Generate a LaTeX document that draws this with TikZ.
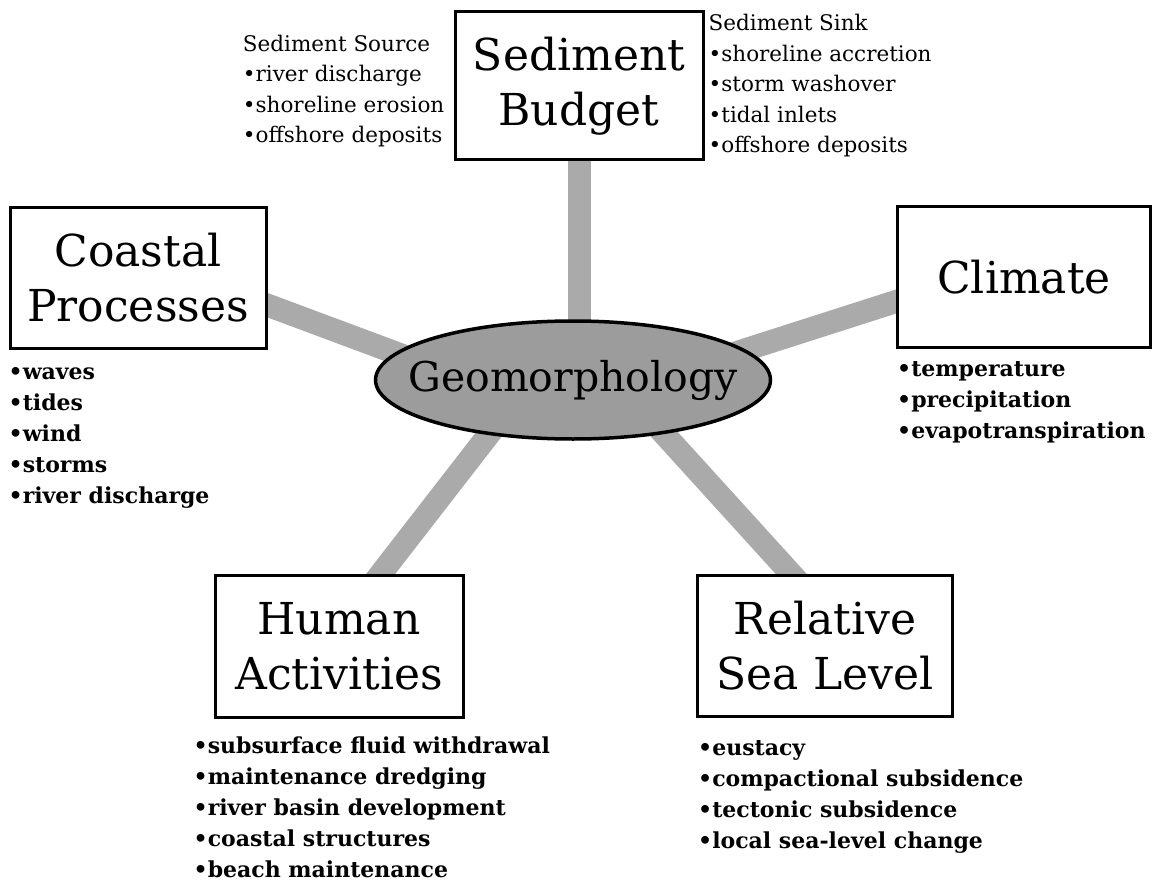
\documentclass[tikz,border=0pt]{standalone}
\usepackage{fontspec}
\setmainfont{DejaVu Serif}
\usepackage{xcolor}
\definecolor{hubgray}{HTML}{9C9C9C}
\definecolor{spokegray}{HTML}{AAAAAA}
\usetikzlibrary{positioning,shapes.geometric,backgrounds,calc}
\tikzset{
    topic/.style={
        rectangle,
        draw=black,
        fill=white,
        line width=3pt,
        minimum width=248pt,
        minimum height=142pt,
        align=center,
        inner sep=0pt,
        font=\fontsize{44}{55}\selectfont,
    },
    hub/.style={
        ellipse,
        draw=black,
        fill=hubgray,
        line width=3.5pt,
        minimum width=395pt,
        minimum height=118pt,
        inner sep=0pt,
    },
    hubtext/.style={
        inner sep=0pt,
        font=\fontsize{41}{48}\selectfont,
    },
    spoke/.style={
        line width=23pt,
        spokegray,
    },
    factors/.style={
        align=left,
        inner sep=0pt,
        font=\bfseries\fontsize{22}{31}\selectfont,
    },
    sources/.style={
        align=left,
        inner sep=0pt,
        font=\fontsize{21.5}{30.5}\selectfont,
    },
}

\begin{document}
\begin{tikzpicture}[x=1pt,y=1pt]
    \useasboundingbox (0,0) rectangle (1155,-885);

    \node[hub] (geo) at (573,-380) {};
    \node[hubtext] (geotext) at (geo.center) {Geomorphology};

    \node[topic, minimum height=148pt] (budget) at (579,-86) {Sediment\\Budget};
    \node[topic, minimum width=256pt, minimum height=140pt] (coastal) at (138,-278) {Coastal\\Processes};
    \node[topic, minimum width=253pt, minimum height=141pt] (climate) at (1024,-277) {Climate};
    \node[topic, minimum height=142pt] (human) at (339,-646) {Human\\Activities};
    \node[topic, minimum width=255pt, minimum height=141pt] (sealevel) at (825,-646) {Relative\\Sea Level};

    % sources and sinks beside the budget box
    \node[sources, left=9pt of budget, yshift=-5pt] (source) {Sediment Source\\•river discharge\\•shoreline erosion\\•offshore deposits};
    \node[sources, right=4pt of budget] (sink) {Sediment Sink\\•shoreline accretion\\•storm washover\\•tidal inlets\\•offshore deposits};

    % factors under each box
    \node[factors, below right=18pt and 0pt of coastal.south west] (coastlist) {•waves\\•tides\\•wind\\•storms\\•river discharge};
    \node[factors, below right=12pt and 1pt of climate.south west] (climlist) {•temperature\\•precipitation\\•evapotranspiration};
    \node[factors, below right=18pt and -20pt of human.south west] (humlist) {•subsurface fluid withdrawal\\•maintenance dredging\\•river basin development\\•coastal structures\\•beach maintenance};
    \node[factors, below right=22pt and 2pt of sealevel.south west] (sealist) {•eustacy\\•compactional subsidence\\•tectonic subsidence\\•local sea-level change};

    % spokes behind the boxes
    \coordinate (hubL) at ($(geo.center)+(0,-39)$);
    \coordinate (hubR) at ($(geo.center)+(0,-25)$);
    \coordinate (hubBL) at ($(geo.center)+(-42,0)$);
    \coordinate (hubBR) at ($(geo.center)+(42,0)$);
    \coordinate (endL) at ($(coastal.center)+(62,-2)$);
    \coordinate (endR) at ($(climate.center)+(-64,-4)$);
    \coordinate (endBL) at ($(human.center)+(6,26)$);
    \coordinate (endBR) at ($(sealevel.center)+(8,26)$);
    \begin{scope}[on background layer]
        \draw[spoke] (budget.center) -- (budget.center |- geo.center);
        \draw[spoke] (hubL) -- (endL);
        \draw[spoke] (hubR) -- (endR);
        \draw[spoke] (hubBL) -- (endBL);
        \draw[spoke] (hubBR) -- (endBR);
    \end{scope}
\end{tikzpicture}
\end{document}
